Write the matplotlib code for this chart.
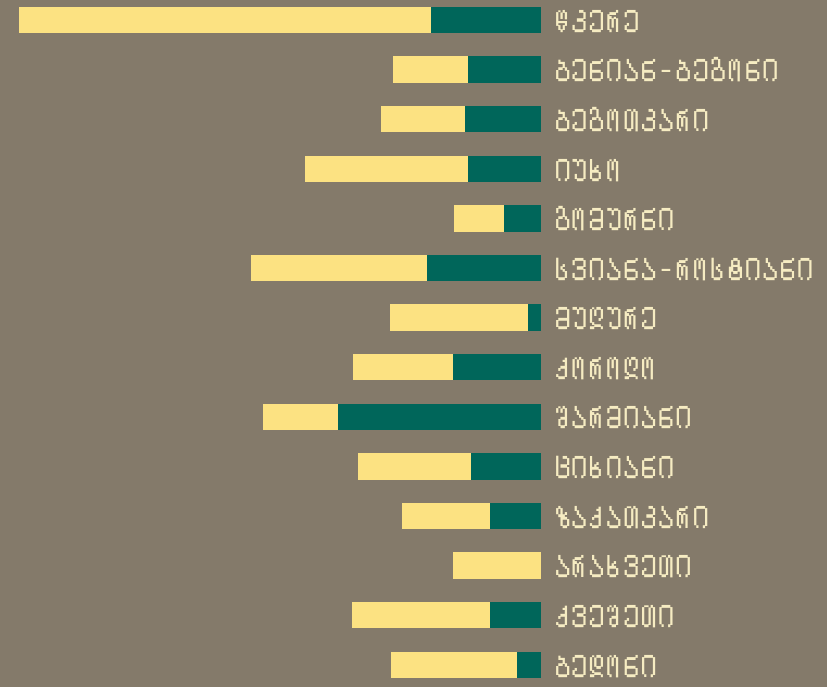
import matplotlib
matplotlib.use("Agg")
import matplotlib.pyplot as plt
from matplotlib import font_manager
from matplotlib.ft2font import FT2Font

villages = ["წკერე", "ბენიან-ბეგონი", "ბეგოთკარი", "იუხო", "გომურნი",
            "სვიანა-როსტიანი", "მუღურე", "ქოროღო", "შარმიანი", "ციხიანი",
            "ზაქათკარი", "არახვეთი", "ქვეშეთი", "ბედონი"]
dark_values = [110, 73, 76, 73, 37, 114, 13, 88, 203, 70, 51, 0, 51, 24]
light_values = [412, 75, 84, 163, 50, 176, 138, 100, 75, 113, 88, 88, 138, 126]

BG = "#847a6a"
DARK = "#00665a"
LIGHT = "#fce282"
TXT = "#f6ecc2"


def to_mtavruli(s):
    out = []
    for ch in s:
        o = ord(ch)
        if 0x10D0 <= o <= 0x10FA:
            out.append(chr(o - 0x10D0 + 0x1C90))
        else:
            out.append(ch)
    return "".join(out)


def has_all(path, codepoints):
    try:
        cm = FT2Font(path).get_charmap()
    except Exception:
        return False
    return all(c in cm for c in codepoints)


def find_font(codepoints):
    files = font_manager.findSystemFonts()
    def rank(f):
        low = f.lower()
        r = 0
        if "mono" in low:
            r += 10
        if "serif" in low and "sans" not in low:
            r += 5
        if "condensed" in low:
            r -= 2
        if "bold" in low and "oblique" not in low and "italic" not in low:
            r -= 1
        if "oblique" in low or "italic" in low or "extralight" in low:
            r += 20
        return r
    for f in sorted(files, key=rank):
        if has_all(f, codepoints):
            return font_manager.FontProperties(fname=f)
    return None

mt = [to_mtavruli(v) for v in villages]
needed = sorted({ord(c) for s in mt for c in s if c != "-"})
fp = find_font(needed)
labels = mt
if fp is None:
    needed = sorted({ord(c) for s in villages for c in s if c != "-"})
    fp = find_font(needed)
    labels = villages
if fp is None:
    fp = font_manager.FontProperties(family="DejaVu Sans")

W, H = 828, 687
fig = plt.figure(figsize=(W / 100, H / 100), dpi=100, facecolor=BG)
row = 49.6
n = len(villages)
top_px = 20 - row / 2
ax = fig.add_axes([0, (H - (top_px + n * row)) / H, 541 / W, n * row / H])
ax.set_facecolor(BG)

y = list(range(n))
ax.barh(y, dark_values, height=0.53, color=DARK, linewidth=0)
ax.barh(y, light_values, left=dark_values, height=0.53, color=LIGHT, linewidth=0)
ax.set_xlim(541, 0)
ax.set_ylim(n - 0.5, -0.5)

ax.yaxis.tick_right()
ax.set_yticks(y)
ax.set_yticklabels(labels, fontproperties=fp, fontsize=25, color=TXT)
ax.tick_params(axis="y", length=0, pad=9)
ax.set_xticks([])
for s in ax.spines.values():
    s.set_visible(False)

fig.savefig("out.png", dpi=100, facecolor=BG)
